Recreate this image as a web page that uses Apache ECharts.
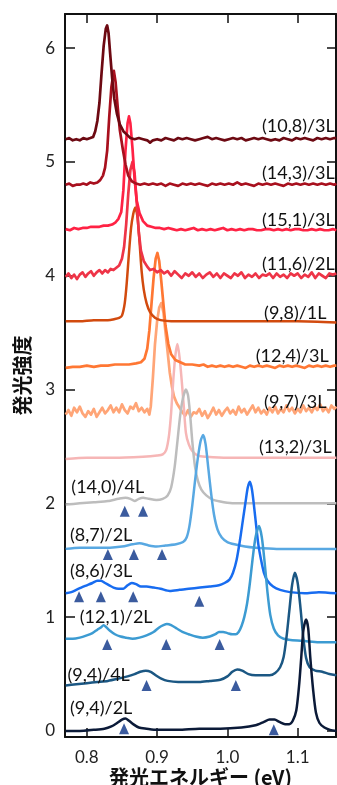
<!DOCTYPE html>
<html>
<head>
<meta charset="utf-8">
<script src="https://cdn.jsdelivr.net/npm/echarts@6/dist/echarts.min.js"></script>
<style>
  html, body { margin: 0; padding: 0; background: #fff; }
  #chart { width: 337px; height: 785px; }
</style>
</head>
<body>
<div id="chart"></div>
<script>
// 目盛り
const xTicks = [0.8, 0.9, 1.0, 1.1]
const yTicks = [0, 1, 2, 3, 4, 5, 6]

// スペクトル (発光エネルギー eV, オフセット付き強度)
const s10_8 = [[0.770,5.20],[0.775,5.21],[0.780,5.19],[0.785,5.20],[0.790,5.19],[0.795,5.21],[0.800,5.20],[0.805,5.21],[0.809,5.22],[0.812,5.27],[0.815,5.36],[0.818,5.52],[0.821,5.78],[0.824,6.02],[0.827,6.17],[0.829,6.20],[0.831,6.13],[0.833,5.97],[0.836,5.74],[0.839,5.56],[0.843,5.42],[0.847,5.33],[0.852,5.27],[0.857,5.24],[0.862,5.21],[0.868,5.20],[0.874,5.21],[0.880,5.20],[0.886,5.19],[0.890,5.17],[0.894,5.19],[0.900,5.20],[0.906,5.19],[0.912,5.21],[0.918,5.20],[0.924,5.19],[0.930,5.21],[0.936,5.20],[0.942,5.21],[0.948,5.20],[0.954,5.19],[0.960,5.20],[0.966,5.21],[0.972,5.22],[0.978,5.20],[0.984,5.21],[0.990,5.20],[0.996,5.19],[1.002,5.20],[1.008,5.21],[1.014,5.20],[1.020,5.21],[1.026,5.19],[1.032,5.20],[1.038,5.21],[1.044,5.20],[1.050,5.21],[1.056,5.20],[1.062,5.19],[1.068,5.20],[1.074,5.19],[1.080,5.21],[1.086,5.20],[1.092,5.19],[1.098,5.21],[1.104,5.20],[1.110,5.21],[1.116,5.20],[1.122,5.19],[1.128,5.21],[1.134,5.20],[1.140,5.21],[1.146,5.20],[1.152,5.21],[1.155,5.21]]
const s14_3 = [[0.770,4.80],[0.775,4.81],[0.780,4.79],[0.785,4.80],[0.790,4.80],[0.795,4.81],[0.800,4.80],[0.805,4.82],[0.810,4.81],[0.815,4.82],[0.819,4.84],[0.823,4.88],[0.826,4.95],[0.829,5.10],[0.832,5.40],[0.835,5.66],[0.8385,5.80],[0.841,5.70],[0.844,5.48],[0.847,5.28],[0.851,5.12],[0.855,4.98],[0.859,4.88],[0.864,4.83],[0.870,4.81],[0.876,4.80],[0.882,4.81],[0.888,4.80],[0.894,4.81],[0.900,4.80],[0.906,4.81],[0.912,4.79],[0.918,4.81],[0.924,4.80],[0.930,4.79],[0.936,4.81],[0.942,4.80],[0.948,4.81],[0.954,4.80],[0.960,4.81],[0.966,4.80],[0.972,4.79],[0.978,4.81],[0.984,4.80],[0.990,4.81],[0.996,4.80],[1.002,4.81],[1.008,4.80],[1.014,4.82],[1.020,4.80],[1.026,4.81],[1.032,4.80],[1.038,4.79],[1.044,4.81],[1.050,4.80],[1.056,4.81],[1.062,4.80],[1.068,4.81],[1.074,4.80],[1.080,4.79],[1.086,4.81],[1.092,4.80],[1.098,4.81],[1.104,4.80],[1.110,4.81],[1.116,4.80],[1.122,4.81],[1.128,4.80],[1.134,4.81],[1.140,4.80],[1.146,4.81],[1.152,4.80],[1.155,4.81]]
const s15_1 = [[0.770,4.41],[0.776,4.40],[0.782,4.42],[0.788,4.41],[0.794,4.42],[0.800,4.42],[0.806,4.43],[0.812,4.43],[0.818,4.43],[0.824,4.44],[0.830,4.44],[0.836,4.45],[0.841,4.47],[0.845,4.50],[0.849,4.56],[0.852,4.75],[0.855,5.10],[0.858,5.34],[0.860,5.40],[0.862,5.34],[0.865,5.12],[0.868,4.85],[0.871,4.66],[0.875,4.55],[0.880,4.48],[0.886,4.44],[0.892,4.43],[0.898,4.42],[0.904,4.42],[0.910,4.41],[0.916,4.42],[0.922,4.41],[0.928,4.40],[0.934,4.41],[0.940,4.40],[0.946,4.41],[0.952,4.42],[0.958,4.40],[0.964,4.41],[0.970,4.40],[0.976,4.41],[0.982,4.40],[0.988,4.41],[0.994,4.42],[1.000,4.40],[1.006,4.41],[1.012,4.40],[1.018,4.41],[1.024,4.40],[1.030,4.41],[1.036,4.41],[1.042,4.40],[1.048,4.40],[1.054,4.41],[1.060,4.41],[1.066,4.40],[1.072,4.41],[1.078,4.40],[1.084,4.41],[1.090,4.40],[1.096,4.41],[1.102,4.41],[1.108,4.40],[1.114,4.40],[1.120,4.41],[1.126,4.40],[1.132,4.41],[1.138,4.40],[1.144,4.40],[1.150,4.41],[1.155,4.40]]
const s11_6 = [[0.770,3.99],[0.774,4.02],[0.778,3.98],[0.782,4.01],[0.786,3.97],[0.790,4.01],[0.794,4.03],[0.798,3.99],[0.802,4.02],[0.806,4.04],[0.810,4.00],[0.814,4.03],[0.818,4.05],[0.822,4.02],[0.826,4.05],[0.830,4.03],[0.834,4.06],[0.838,4.05],[0.842,4.07],[0.846,4.09],[0.850,4.15],[0.853,4.25],[0.856,4.45],[0.859,4.72],[0.862,4.93],[0.865,5.00],[0.868,4.90],[0.871,4.65],[0.874,4.38],[0.877,4.22],[0.881,4.13],[0.886,4.08],[0.890,4.05],[0.895,4.06],[0.900,4.03],[0.905,4.05],[0.910,4.02],[0.915,4.04],[0.920,4.00],[0.925,4.04],[0.930,4.01],[0.935,3.98],[0.940,4.02],[0.945,4.00],[0.950,4.03],[0.955,3.99],[0.960,4.02],[0.965,3.98],[0.970,4.01],[0.975,4.03],[0.980,3.99],[0.985,4.02],[0.990,3.98],[0.995,4.02],[1.000,4.00],[1.005,3.98],[1.010,4.02],[1.015,4.00],[1.020,4.03],[1.025,3.98],[1.030,4.01],[1.035,3.99],[1.040,4.02],[1.045,3.98],[1.050,4.01],[1.055,4.00],[1.060,4.02],[1.065,3.98],[1.070,4.02],[1.075,3.99],[1.080,4.01],[1.085,3.98],[1.090,4.02],[1.095,4.00],[1.100,4.02],[1.105,3.98],[1.110,4.01],[1.115,3.99],[1.120,4.03],[1.125,3.98],[1.130,4.02],[1.135,4.00],[1.140,3.98],[1.145,4.02],[1.150,4.01],[1.155,4.02]]
const s9_8 = [[0.770,3.60],[0.790,3.60],[0.810,3.61],[0.830,3.61],[0.840,3.62],[0.846,3.63],[0.850,3.65],[0.854,3.76],[0.857,3.95],[0.860,4.20],[0.863,4.42],[0.866,4.54],[0.869,4.60],[0.872,4.52],[0.875,4.30],[0.878,4.04],[0.881,3.88],[0.885,3.76],[0.890,3.68],[0.897,3.63],[0.905,3.61],[0.920,3.60],[0.950,3.60],[1.000,3.60],[1.050,3.60],[1.100,3.60],[1.155,3.59]]
const s12_4 = [[0.770,3.19],[0.780,3.20],[0.790,3.20],[0.800,3.21],[0.810,3.20],[0.820,3.21],[0.830,3.21],[0.840,3.22],[0.850,3.22],[0.860,3.22],[0.870,3.23],[0.877,3.24],[0.882,3.27],[0.886,3.36],[0.889,3.52],[0.892,3.75],[0.895,3.98],[0.898,4.15],[0.9005,4.20],[0.903,4.13],[0.906,3.95],[0.909,3.75],[0.912,3.56],[0.916,3.40],[0.920,3.31],[0.926,3.26],[0.933,3.24],[0.940,3.22],[0.950,3.22],[0.960,3.21],[0.966,3.22],[0.972,3.20],[0.978,3.21],[0.984,3.20],[0.990,3.21],[0.996,3.20],[1.002,3.21],[1.008,3.20],[1.014,3.21],[1.020,3.20],[1.026,3.19],[1.032,3.21],[1.038,3.20],[1.044,3.21],[1.050,3.20],[1.056,3.21],[1.062,3.20],[1.068,3.19],[1.074,3.21],[1.080,3.20],[1.086,3.21],[1.092,3.20],[1.098,3.21],[1.104,3.20],[1.110,3.19],[1.116,3.21],[1.122,3.20],[1.128,3.21],[1.134,3.20],[1.140,3.21],[1.146,3.20],[1.152,3.21],[1.155,3.21]]
const s9_7 = [[0.770,2.78],[0.774,2.82],[0.778,2.77],[0.782,2.84],[0.786,2.80],[0.790,2.85],[0.794,2.79],[0.798,2.76],[0.802,2.81],[0.806,2.78],[0.810,2.83],[0.814,2.76],[0.818,2.80],[0.822,2.84],[0.826,2.79],[0.830,2.82],[0.834,2.86],[0.838,2.80],[0.842,2.84],[0.846,2.80],[0.850,2.87],[0.854,2.82],[0.858,2.79],[0.862,2.85],[0.866,2.83],[0.870,2.88],[0.874,2.81],[0.878,2.84],[0.882,2.80],[0.886,2.83],[0.889,2.78],[0.891,2.85],[0.894,3.10],[0.897,3.40],[0.900,3.60],[0.903,3.72],[0.906,3.76],[0.909,3.68],[0.912,3.50],[0.915,3.33],[0.918,3.15],[0.921,3.03],[0.924,2.94],[0.928,2.88],[0.932,2.84],[0.936,2.80],[0.940,2.77],[0.944,2.82],[0.948,2.76],[0.952,2.80],[0.956,2.79],[0.960,2.83],[0.964,2.77],[0.968,2.81],[0.972,2.75],[0.976,2.79],[0.980,2.84],[0.984,2.78],[0.988,2.82],[0.992,2.77],[0.996,2.81],[1.000,2.84],[1.004,2.79],[1.008,2.82],[1.012,2.78],[1.016,2.85],[1.020,2.80],[1.024,2.83],[1.028,2.78],[1.032,2.82],[1.036,2.86],[1.040,2.80],[1.044,2.84],[1.048,2.79],[1.052,2.82],[1.056,2.78],[1.060,2.84],[1.064,2.80],[1.068,2.85],[1.072,2.79],[1.076,2.83],[1.080,2.80],[1.084,2.86],[1.088,2.81],[1.092,2.84],[1.096,2.79],[1.100,2.83],[1.104,2.80],[1.108,2.86],[1.112,2.81],[1.116,2.84],[1.120,2.80],[1.124,2.85],[1.128,2.82],[1.132,2.87],[1.136,2.81],[1.140,2.84],[1.144,2.80],[1.148,2.86],[1.152,2.83],[1.155,2.85]]
const s13_2 = [[0.770,2.39],[0.800,2.40],[0.840,2.40],[0.880,2.41],[0.900,2.42],[0.908,2.43],[0.913,2.47],[0.917,2.60],[0.920,2.80],[0.923,3.08],[0.926,3.30],[0.929,3.40],[0.932,3.28],[0.935,3.08],[0.938,2.85],[0.941,2.62],[0.945,2.52],[0.950,2.46],[0.958,2.42],[0.970,2.41],[1.000,2.40],[1.050,2.40],[1.100,2.40],[1.155,2.40]]
const s14_0 = [[0.770,1.99],[0.790,2.00],[0.810,2.01],[0.830,2.02],[0.845,2.04],[0.855,2.05],[0.862,2.04],[0.868,2.02],[0.874,2.04],[0.880,2.05],[0.888,2.04],[0.899,2.03],[0.908,2.04],[0.915,2.07],[0.920,2.14],[0.925,2.32],[0.929,2.55],[0.933,2.78],[0.937,2.93],[0.941,3.00],[0.944,2.95],[0.947,2.78],[0.950,2.55],[0.954,2.32],[0.958,2.20],[0.963,2.12],[0.970,2.07],[0.980,2.03],[0.995,2.01],[1.010,2.00],[1.050,2.00],[1.100,2.00],[1.155,2.00]]
const s8_7 = [[0.770,1.60],[0.790,1.61],[0.810,1.61],[0.833,1.61],[0.850,1.62],[0.865,1.64],[0.875,1.65],[0.888,1.63],[0.899,1.62],[0.912,1.63],[0.927,1.64],[0.937,1.66],[0.942,1.70],[0.946,1.80],[0.950,1.98],[0.954,2.20],[0.958,2.40],[0.962,2.55],[0.9655,2.60],[0.969,2.52],[0.973,2.30],[0.977,2.08],[0.981,1.90],[0.986,1.77],[0.992,1.70],[1.000,1.66],[1.010,1.64],[1.025,1.62],[1.040,1.61],[1.070,1.60],[1.100,1.60],[1.155,1.60]]
const s8_6 = [[0.770,1.21],[0.778,1.22],[0.785,1.24],[0.792,1.26],[0.800,1.28],[0.808,1.30],[0.815,1.32],[0.820,1.32],[0.826,1.30],[0.832,1.28],[0.838,1.26],[0.845,1.25],[0.852,1.25],[0.858,1.28],[0.864,1.30],[0.870,1.29],[0.877,1.27],[0.885,1.27],[0.895,1.26],[0.905,1.25],[0.918,1.23],[0.932,1.24],[0.945,1.25],[0.961,1.26],[0.975,1.27],[0.988,1.28],[0.996,1.30],[1.003,1.33],[1.008,1.39],[1.013,1.50],[1.018,1.68],[1.022,1.85],[1.026,2.02],[1.029,2.14],[1.032,2.19],[1.035,2.12],[1.038,1.97],[1.041,1.80],[1.044,1.64],[1.048,1.50],[1.052,1.39],[1.057,1.32],[1.065,1.27],[1.075,1.24],[1.089,1.22],[1.110,1.21],[1.130,1.22],[1.155,1.21]]
const s12_1 = [[0.770,0.81],[0.780,0.81],[0.790,0.82],[0.800,0.84],[0.808,0.86],[0.815,0.89],[0.820,0.91],[0.824,0.93],[0.828,0.91],[0.833,0.88],[0.840,0.85],[0.848,0.83],[0.856,0.82],[0.865,0.81],[0.875,0.82],[0.885,0.84],[0.895,0.87],[0.903,0.91],[0.909,0.93],[0.914,0.94],[0.920,0.93],[0.928,0.90],[0.936,0.87],[0.945,0.85],[0.955,0.83],[0.965,0.82],[0.975,0.83],[0.983,0.85],[0.988,0.87],[0.994,0.87],[1.000,0.86],[1.007,0.85],[1.012,0.85],[1.016,0.87],[1.020,0.92],[1.024,1.00],[1.028,1.12],[1.032,1.30],[1.036,1.52],[1.040,1.70],[1.045,1.80],[1.049,1.70],[1.053,1.48],[1.057,1.22],[1.061,1.02],[1.066,0.90],[1.072,0.84],[1.080,0.81],[1.090,0.80],[1.110,0.79],[1.130,0.78],[1.155,0.78]]
const s9_4_4L = [[0.770,0.40],[0.785,0.41],[0.800,0.42],[0.815,0.43],[0.830,0.44],[0.845,0.46],[0.858,0.48],[0.868,0.50],[0.876,0.52],[0.884,0.53],[0.891,0.52],[0.898,0.49],[0.906,0.46],[0.915,0.44],[0.930,0.43],[0.945,0.43],[0.960,0.43],[0.975,0.44],[0.990,0.45],[1.000,0.48],[1.007,0.52],[1.014,0.54],[1.021,0.53],[1.030,0.50],[1.040,0.49],[1.050,0.49],[1.060,0.49],[1.068,0.51],[1.075,0.56],[1.080,0.65],[1.084,0.82],[1.088,1.05],[1.092,1.28],[1.096,1.39],[1.100,1.30],[1.104,1.08],[1.108,0.82],[1.112,0.64],[1.117,0.56],[1.125,0.53],[1.135,0.52],[1.145,0.50],[1.155,0.49]]
const s9_4_2L = [[0.770,0.00],[0.790,0.00],[0.810,0.01],[0.825,0.02],[0.835,0.04],[0.843,0.07],[0.850,0.10],[0.855,0.11],[0.860,0.09],[0.866,0.06],[0.874,0.03],[0.885,0.02],[0.900,0.01],[0.930,0.01],[0.960,0.02],[0.990,0.02],[1.020,0.03],[1.040,0.05],[1.052,0.08],[1.060,0.10],[1.067,0.10],[1.074,0.08],[1.082,0.06],[1.088,0.06],[1.093,0.09],[1.098,0.18],[1.102,0.40],[1.105,0.64],[1.108,0.88],[1.112,0.98],[1.115,0.90],[1.118,0.64],[1.122,0.36],[1.126,0.16],[1.131,0.07],[1.138,0.03],[1.146,0.01],[1.155,0.00]]

// 矢印 (サブピーク位置)
const arrows = [[0.854,1.93],[0.880,1.93],[0.830,1.55],[0.867,1.55],[0.907,1.55],[0.789,1.18],[0.820,1.18],[0.866,1.18],[0.960,1.14],[0.829,0.76],[0.913,0.76],[0.989,0.76],[0.885,0.40],[1.012,0.40],[0.853,0.02],[1.066,0.01]]

// ラベル
const labelNames = ['(10,8)/3L','(14,3)/3L','(15,1)/3L','(11,6)/2L','(9,8)/1L','(12,4)/3L','(9,7)/3L','(13,2)/3L','(14,0)/4L','(8,7)/2L','(8,6)/3L','(12,1)/2L','(9,4)/4L','(9,4)/2L']
const labelAt = [[1.1528,5.31],[1.1528,4.90],[1.1528,4.49],[1.1528,4.10],[1.141,3.67],[1.144,3.29],[1.141,2.89],[1.1485,2.49],[0.778,2.14],[0.776,1.72],[0.776,1.40],[0.790,1.00],[0.7725,0.49],[0.776,0.20]]

// noisy: 生データのノイズが目立つもの (折れ線のまま描く)
const spectra = [
  { data: s9_7, color: '#ffa577', noisy: true },
  { data: s13_2, color: '#f6b6b6' },
  { data: s12_4, color: '#ff7733', noisy: true },
  { data: s9_8, color: '#d24a0e' },
  { data: s11_6, color: '#ee3447', noisy: true },
  { data: s15_1, color: '#ff2244', noisy: true },
  { data: s14_3, color: '#a8101e', noisy: true },
  { data: s10_8, color: '#6d0912', noisy: true },
  { data: s14_0, color: '#bdbdbd' },
  { data: s8_7, color: '#58a8e2' },
  { data: s8_6, color: '#186cf0' },
  { data: s12_1, color: '#3c9bd2' },
  { data: s9_4_4L, color: '#1b5783' },
  { data: s9_4_2L, color: '#0b1a38' }
]

const latin = 'Lato, "Noto Sans CJK JP", sans-serif'
const xMin = 0.769, xMax = 1.1545, yMin = -0.053, yMax = 6.30

function baseAxis (extra) {
  return Object.assign({
    type: 'value',
    splitLine: { show: false },
    axisLine: { show: true, onZero: false, lineStyle: { color: '#111', width: 2 } }
  }, extra)
}

let chart = echarts.init(document.getElementById('chart'), null, { renderer: 'canvas' })

let series = spectra.map(s => ({
  type: 'line',
  data: s.data,
  showSymbol: false,
  symbol: 'none',
  smooth: s.noisy ? false : 0.25,
  lineStyle: { color: s.color, width: s.noisy ? 2.7 : 2.5, join: 'round' },
  animation: false
}))

series.push({
  type: 'scatter',
  data: arrows,
  symbol: 'triangle',
  symbolSize: [10, 11],
  itemStyle: { color: '#3b5b9e', opacity: 1 },
  animation: false,
  z: 5
})

series.push({
  type: 'scatter',
  symbolSize: 0,
  animation: false,
  z: 6,
  itemStyle: { opacity: 1 },
  data: labelNames.map((n, i) => ({
    value: labelAt[i],
    label: {
      show: true,
      formatter: n,
      position: [0, 0],
      align: labelAt[i][0] > 1 ? 'right' : 'left',
      verticalAlign: 'middle',
      fontFamily: latin,
      fontSize: 18,
      color: '#111'
    }
  }))
})

chart.setOption({
  backgroundColor: '#fff',
  animation: false,
  grid: { left: 65, right: 1, top: 14, bottom: 48, containLabel: false, outerBoundsMode: 'none' },
  xAxis: [
    baseAxis({
      min: xMin, max: xMax,
      axisTick: { inside: true, length: 9, customValues: xTicks, lineStyle: { color: '#111', width: 1.5 } },
      axisLabel: { customValues: xTicks, formatter: v => v.toFixed(1), fontFamily: latin, fontSize: 17, color: '#222', margin: 12 },
      name: '発光エネルギー (eV)',
      nameLocation: 'middle',
      nameGap: 30,
      nameMoveOverlap: false,
      nameTextStyle: { fontFamily: '"Noto Sans CJK JP", sans-serif', fontSize: 20, fontWeight: 'bold', color: '#111' }
    }),
    baseAxis({
      position: 'top', min: xMin, max: xMax,
      axisTick: { inside: true, length: 9, customValues: xTicks, lineStyle: { color: '#111', width: 1.5 } },
      axisLabel: { show: false }
    })
  ],
  yAxis: [
    baseAxis({
      min: yMin, max: yMax,
      axisTick: { inside: true, length: 10, customValues: yTicks, lineStyle: { color: '#111', width: 1.5 } },
      axisLabel: { customValues: yTicks, fontFamily: latin, fontSize: 17, color: '#222', margin: 10 },
      name: '発光強度',
      nameLocation: 'middle',
      nameRotate: 90,
      nameGap: 33,
      nameMoveOverlap: false,
      nameTextStyle: { fontFamily: '"Noto Sans CJK JP", sans-serif', fontSize: 20, fontWeight: 'bold', color: '#111' }
    }),
    baseAxis({
      position: 'right', min: yMin, max: yMax,
      axisTick: { inside: true, length: 9, customValues: yTicks, lineStyle: { color: '#111', width: 1.5 } },
      axisLabel: { show: false }
    })
  ],
  series: series
})
</script>
</body>
</html>
